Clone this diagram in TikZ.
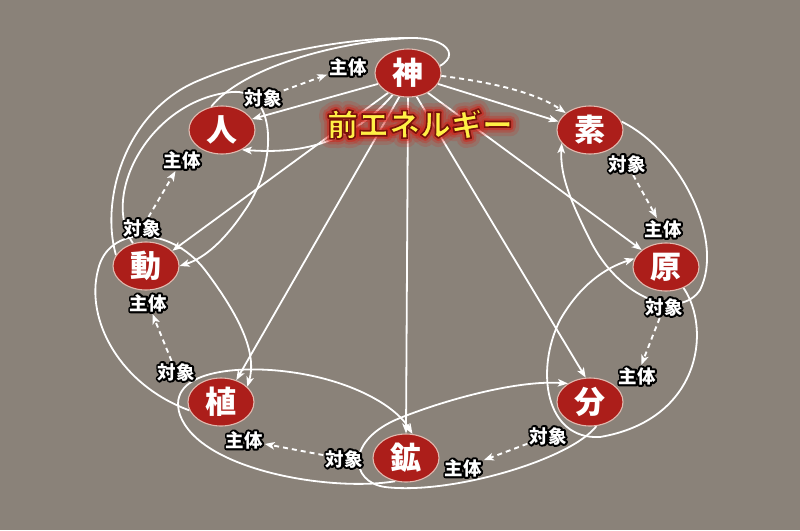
\documentclass[tikz,border=0pt]{standalone}
\usepackage{fontspec}
\newfontfamily\jp{Noto Sans CJK JP}
\usetikzlibrary{arrows.meta,shapes.geometric}
\pgfdeclarelayer{back}
\pgfdeclarelayer{lines}
\pgfsetlayers{back,lines,main}
\definecolor{bg}{RGB}{138,130,121}
\definecolor{nodered}{RGB}{172,30,26}
\definecolor{nodeedge}{RGB}{225,185,175}
\definecolor{titley}{RGB}{255,240,70}
\definecolor{glowred}{RGB}{215,25,15}
\tikzset{
  ent/.style={ellipse, fill=nodered, draw=nodeedge, line width=1.1pt,
    minimum width=66pt, minimum height=48pt, inner sep=0pt, text=white,
    font=\jp\bfseries\fontsize{31}{31}\selectfont},
  lblfont/.style={inner sep=2pt, font=\jp\bfseries\fontsize{18.5}{18.5}\selectfont},
  titlefont/.style={inner sep=0pt, font=\jp\bfseries\fontsize{31}{31}\selectfont},
  wire/.style={draw=white, line width=1.8pt},
  dashwire/.style={draw=white, line width=1.9pt, dash pattern=on 5pt off 4pt},
  arrowhd/.style={-{Stealth[length=10pt,width=7.5pt,inset=2.5pt]}},
}
% stroked text: #1 line width, #2 text
\newcommand\strktext[2]{\special{pdf:literal direct 1 Tr #1 w 1 j}#2\special{pdf:literal direct 0 Tr}}
\newcommand\filstrk[3]{\special{pdf:literal direct 2 Tr #1 w 1 j #2 RG}#3\special{pdf:literal direct 0 Tr}}
\newcommand\mklabel[3]{%
  \node[lblfont,text=black] at (#2) {\strktext{4}{#3}};
  \node[lblfont,text=white] (#1) at (#2) {#3};}
\begin{document}
\begin{tikzpicture}[x=1pt,y=-1pt]
\useasboundingbox (0,0) rectangle (800,530);
\begin{pgfonlayer}{back}
  \fill[bg] (0,0) rectangle (800,530);
\end{pgfonlayer}
% entity nodes
\node[ent] (kami) at (408,73) {神};
\node[ent] (hito) at (222,130) {人};
\node[ent] (so) at (590,130) {素};
\node[ent] (dou) at (146,266) {動};
\node[ent] (gen) at (666,267) {原};
\node[ent] (shoku) at (221,402) {植};
\node[ent] (bun) at (590,402) {分};
\node[ent] (kou) at (406,458) {鉱};
\coordinate (kamitop) at (410,38);
% labels
\mklabel{skami}{348,67}{主体}
\mklabel{ohito}{263,98}{対象}
\mklabel{shito}{182,160}{主体}
\mklabel{odou}{142,228}{対象}
\mklabel{sdou}{148,303}{主体}
\mklabel{oshoku}{176,372}{対象}
\mklabel{sshoku}{244,440}{主体}
\mklabel{okou}{344,459}{対象}
\mklabel{skou}{463,468}{主体}
\mklabel{obun}{548,436}{対象}
\mklabel{sbun}{637,376}{主体}
\mklabel{ogen}{664,307}{対象}
\mklabel{sgen}{663,229}{主体}
\mklabel{oso}{627,164}{対象}
\begin{pgfonlayer}{lines}
  % loops
  \draw[wire,arrowhd] (so.15) .. controls (680,150) and (725,240) .. (700,290)
     .. controls (680,320) and (620,300) .. (590,240)
     .. controls (570,200) and (560,175) .. (so.205);
  \draw[wire,arrowhd] (gen.-50) .. controls (712,330) and (700,420) .. (600,437)
     .. controls (545,440) and (535,370) .. (560,320)
     .. controls (580,285) and (605,268) .. (gen.165);
  \draw[wire,arrowhd] (bun.-75) .. controls (570,460) and (450,495) .. (385,487)
     .. controls (350,482) and (345,440) .. (400,418)
     .. controls (450,398) and (520,380) .. (bun.140);
  \draw[wire,arrowhd] (kou.-115) .. controls (330,492) and (200,470) .. (180,415)
     .. controls (165,370) and (240,365) .. (290,372)
     .. controls (350,380) and (395,405) .. (kou.75);
  \draw[wire,arrowhd] (shoku.195) .. controls (120,385) and (85,320) .. (98,270)
     .. controls (108,225) and (170,225) .. (205,270)
     .. controls (235,310) and (258,350) .. (shoku.30);
  \draw[wire,arrowhd] (dou.120) .. controls (100,195) and (150,100) .. (232,92)
     .. controls (275,88) and (280,160) .. (245,210)
     .. controls (225,240) and (205,258) .. (dou.0);
  \draw[wire] (hito.115) .. controls (240,70) and (330,42) .. (kamitop)
     .. controls (460,37) and (465,70) .. (kami.center);
  \draw[wire] (dou.160) .. controls (100,200) and (125,110) .. (200,80)
     .. controls (260,55) and (340,38) .. (kamitop);
  % radiating lines from kami
  \draw[wire,arrowhd] (kami.200) -- (hito.20);
  \draw[wire,arrowhd] (kami.235) .. controls (345,150) and (290,153) .. (hito.-45);
  \draw[wire,arrowhd] (kami.225) -- (dou.30);
  \draw[wire,arrowhd] (kami.250) -- (shoku.55);
  \draw[wire,arrowhd] (kami.south) -- (kou.north);
  \draw[wire,arrowhd] (kami.290) -- (bun.100);
  \draw[wire,arrowhd] (kami.315) -- (gen.145);
  \draw[wire,arrowhd] (kami.340) -- (so.165);
  \draw[dashwire,arrowhd] (kami.-5) .. controls (490,82) and (535,92) .. (so.145);
  % dashed subject-object arrows
  \draw[dashwire,arrowhd] (ohito) -- (skami);
  \draw[dashwire,arrowhd] (odou) -- (shito);
  \draw[dashwire,arrowhd] (oshoku) -- (sdou);
  \draw[dashwire,arrowhd] (okou) -- (sshoku);
  \draw[dashwire,arrowhd] (obun) -- (skou);
  \draw[dashwire,arrowhd] (ogen) -- (sbun);
  \draw[dashwire,arrowhd] (oso) -- (sgen);
\end{pgfonlayer}
% title with glow
\node[titlefont,text=glowred,opacity=0.16] at (420,124) {\strktext{18}{前エネルギー}};
\node[titlefont,text=glowred,opacity=0.26] at (420,124) {\strktext{11}{前エネルギー}};
\node[titlefont,text=glowred,opacity=0.45] at (420,124) {\strktext{6}{前エネルギー}};
\node[titlefont,text=titley] (title) at (420,124) {\filstrk{1.6}{0.47 0.07 0.04}{前エネルギー}};
\end{tikzpicture}
\end{document}
